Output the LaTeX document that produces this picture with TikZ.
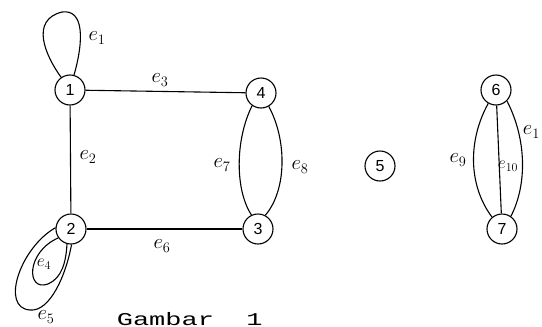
\documentclass[tikz,border=0pt]{standalone}
\usepackage{fontspec}
\newfontfamily\capfont{Liberation Mono}
\newfontfamily\digitfont{Liberation Sans}
\begin{document}
\begin{tikzpicture}[x=1pt,y=-1pt, line width=1.1pt,
  vtx/.style={circle, draw, minimum size=30pt, inner sep=0pt, font=\digitfont\fontsize{16}{16}\selectfont},
  lbl/.style={font=\fontsize{21}{21}\selectfont},
  slbl/.style={font=\fontsize{18}{18}\selectfont}]
\useasboundingbox (0,0) rectangle (542,327);
% vertices
\node[vtx] (n1) at (70,90) {1};
\node[vtx] (n2) at (71,229) {2};
\node[vtx] (n3) at (258,229) {3};
\node[vtx] (n4) at (261,93) {4};
\node[vtx] (n5) at (380,166) {5};
\node[vtx] (n6) at (496,90) {6};
\node[vtx] (n7) at (502,229) {7};
% edges
\draw (n1) -- (n4);
\draw (n1) -- (n2);
\draw (n2) -- (n3);
\draw (n1.125) .. controls (45,55) and (30,20) .. (62,12) .. controls (84,9) and (84,40) .. (n1.75);
\draw (n2.215) .. controls (26,252) and (26,292) .. (48,284) .. controls (62,278) and (66,262) .. (n2.255);
\draw (n2.175) .. controls (20,248) and (0,308) .. (30,310) .. controls (50,312) and (66,275) .. (n2.272);
\draw (n4.235) .. controls (235,140) and (235,190) .. (n3.115);
\draw (n4.300) .. controls (287,140) and (287,190) .. (n3.62);
\draw (n6.240) .. controls (468,140) and (468,185) .. (n7.130);
\draw (n6) -- (n7);
\draw (n6.315) .. controls (527,140) and (527,185) .. (n7.55);
% labels
\node[lbl] (l1) at (97,38) {$e_1$};
\node[lbl] (l3) at (160,80) {$e_3$};
\node[lbl] (l2) at (88,157) {$e_2$};
\node[lbl] (l6) at (162,246) {$e_6$};
\node[lbl] (l7) at (222,165) {$e_7$};
\node[lbl] (l8) at (300,167) {$e_8$};
\node[lbl] (l9) at (458,160) {$e_9$};
\node[slbl] (l10) at (508,166) {$e_{10}$};
\node[lbl, anchor=west] (l11) at (519,132) {$e_1$};
\node[slbl] (l4) at (44,264) {$e_4$};
\node[lbl] (l5) at (46,317) {$e_5$};
\node[font=\capfont\fontsize{18}{18}\selectfont, xscale=1.5, anchor=base west, inner sep=0pt] (cap) at (116,325) {Gambar\ \ 1};
\end{tikzpicture}
\end{document}
